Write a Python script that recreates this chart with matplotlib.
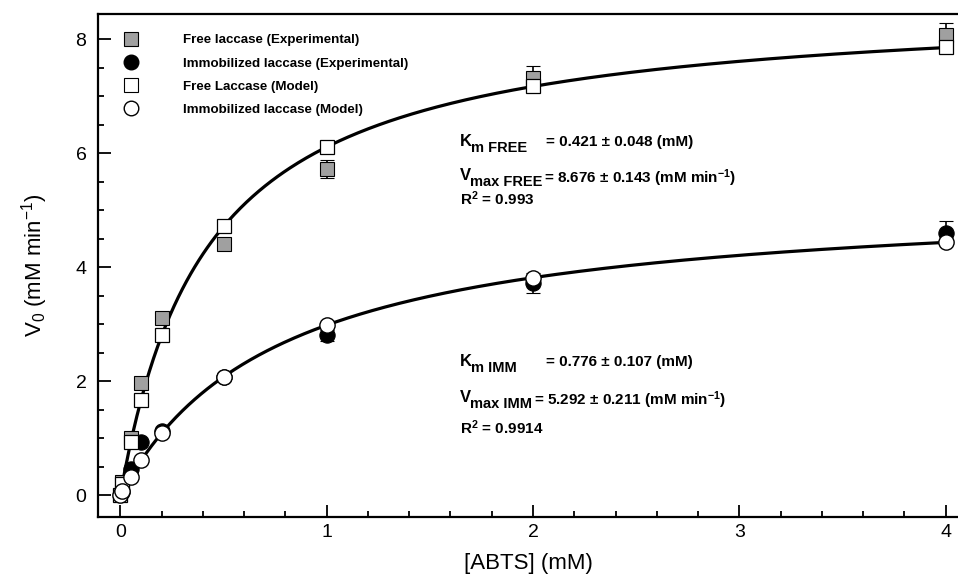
import numpy as np
import matplotlib
matplotlib.use("Agg")
import matplotlib.pyplot as plt
from matplotlib.lines import Line2D
from matplotlib.ticker import MultipleLocator

plt.rcParams['font.family'] = ['Liberation Sans', 'DejaVu Sans']
plt.rcParams['mathtext.fontset'] = 'custom'
plt.rcParams['mathtext.rm'] = 'Liberation Sans'
plt.rcParams['mathtext.it'] = 'Liberation Sans'
plt.rcParams['mathtext.bf'] = 'Liberation Sans:bold'

# Substrate concentrations, mM
abts_exp = [0.01, 0.05, 0.1, 0.2, 0.5, 1.0, 2.0, 4.0]
abts_model = [0.0, 0.01, 0.05, 0.1, 0.2, 0.5, 1.0, 2.0, 4.0]

# Initial rates, mM/min
free_exp = [0.22, 1.00, 1.97, 3.10, 4.40, 5.72, 7.32, 8.07]
free_exp_err = [0.03, 0.05, 0.05, 0.06, 0.08, 0.15, 0.20, 0.21]
imm_exp = [0.05, 0.45, 0.93, 1.12, 2.07, 2.80, 3.72, 4.60]
imm_exp_err = [0.02, 0.04, 0.05, 0.05, 0.06, 0.10, 0.17, 0.21]
free_model = [0.0, 0.20, 0.93, 1.67, 2.80, 4.72, 6.11, 7.18, 7.86]
imm_model = [0.0, 0.07, 0.32, 0.61, 1.09, 2.07, 2.98, 3.81, 4.43]

# Michaelis-Menten fit parameters
km_free, vmax_free = 0.421, 8.676
km_imm, vmax_imm = 0.776, 5.292

fig = plt.figure(figsize=(9.58, 5.77), dpi=100)
W, H = 958, 577
AX_L, AX_R, AX_T, AX_B = 97.5, 960.0, 14.0, 517.0
ax = fig.add_axes([AX_L / W, (H - AX_B) / H, (AX_R - AX_L) / W, (AX_B - AX_T) / H])

s = np.linspace(0, 4, 400)
ax.plot(s, vmax_free * s / (km_free + s), color='black', lw=2.3, zorder=2)
ax.plot(s, vmax_imm * s / (km_imm + s), color='black', lw=2.3, zorder=2)

ax.errorbar(abts_exp, free_exp, yerr=free_exp_err, fmt='s', ms=10,
            mfc='#a0a0a0', mec='black', mew=0.8, ecolor='black',
            elinewidth=1.2, capsize=5, capthick=1.2, zorder=3)
ax.errorbar(abts_exp, imm_exp, yerr=imm_exp_err, fmt='o', ms=11,
            mfc='black', mec='black', mew=0.8, ecolor='black',
            elinewidth=1.2, capsize=5, capthick=1.2, zorder=3)
ax.plot(abts_model, free_model, 's', ms=10, mfc='white', mec='black',
        mew=0.9, zorder=4)
ax.plot(abts_model, imm_model, 'o', ms=11, mfc='white', mec='black',
        mew=1.0, zorder=5)

x0, sx = 120.4, 206.3
ax.set_xlim((AX_L - x0) / sx, (AX_R - x0) / sx)
y0, sy = 495.0, 57.0
ax.set_ylim((y0 - AX_B) / sy, (y0 - AX_T) / sy)

ax.set_xticks([0, 1, 2, 3, 4])
ax.set_yticks([0, 2, 4, 6, 8])
ax.xaxis.set_minor_locator(MultipleLocator(0.2))
ax.yaxis.set_minor_locator(MultipleLocator(0.5))
ax.tick_params(which='both', direction='in', width=1.3, labelsize=14)
ax.tick_params(axis='y', which='major', length=9, pad=8)
ax.tick_params(axis='y', which='minor', length=4.5)
ax.tick_params(axis='x', which='major', length=9, pad=5)
ax.tick_params(axis='x', which='minor', length=4.5)
for sp in ax.spines.values():
    sp.set_linewidth(1.6)

ax.set_xlabel('[ABTS] (mM)', fontsize=16, labelpad=9)
ax.set_ylabel(r'V$_0$ (mM min$^{-1}$)', fontsize=16, labelpad=18)

handles = [
    Line2D([], [], ls='none', marker='s', ms=10, mfc='#a0a0a0', mec='black', mew=0.8),
    Line2D([], [], ls='none', marker='o', ms=10.5, mfc='black', mec='black'),
    Line2D([], [], ls='none', marker='s', ms=10, mfc='white', mec='black', mew=0.8),
    Line2D([], [], ls='none', marker='o', ms=10.5, mfc='white', mec='black', mew=1.0),
]
labels = ['Free laccase (Experimental)', 'Immobilized laccase (Experimental)',
          'Free Laccase (Model)', 'Immobilized laccase (Model)']
ax.legend(handles, labels, loc='upper left', bbox_to_anchor=(0.0248, 0.971),
          frameon=False, prop={'weight': 'bold', 'size': 9.6},
          handlelength=1.0, handletextpad=3.4, labelspacing=0.82,
          borderaxespad=0.0)


def put(x, y, txt, size, **kw):
    ax.text((x - AX_L) / (AX_R - AX_L), (AX_B - y) / (AX_B - AX_T), txt,
            transform=ax.transAxes, fontsize=size, fontweight='bold',
            va='center', ha='left', **kw)


def kinetic_block(y_km, y_vm, y_r2, tag, km, vmax, r2, x_eq_km, x_eq_vm):
    put(460, y_km, 'K', 12)
    put(471, y_km + 6, 'm ' + tag, 10.5)
    put(x_eq_km, y_km, '= %s (mM)' % km, 11)
    put(460, y_vm, 'V', 12)
    put(470, y_vm + 6, 'max ' + tag, 10.5)
    put(x_eq_vm, y_vm + 2, r'= %s (mM min$^{\mathbf{-1}}$)' % vmax, 11)
    put(460, y_r2, r'R$^{\mathbf{2}}$ = %s' % r2, 11)


kinetic_block(142, 176, 199, 'FREE', '0.421 ± 0.048', '8.676 ± 0.143', '0.993',
              546, 544)
kinetic_block(362, 398, 428, 'IMM', '0.776 ± 0.107', '5.292 ± 0.211', '0.9914',
              546, 534)

fig.savefig('out.png', dpi=100)
